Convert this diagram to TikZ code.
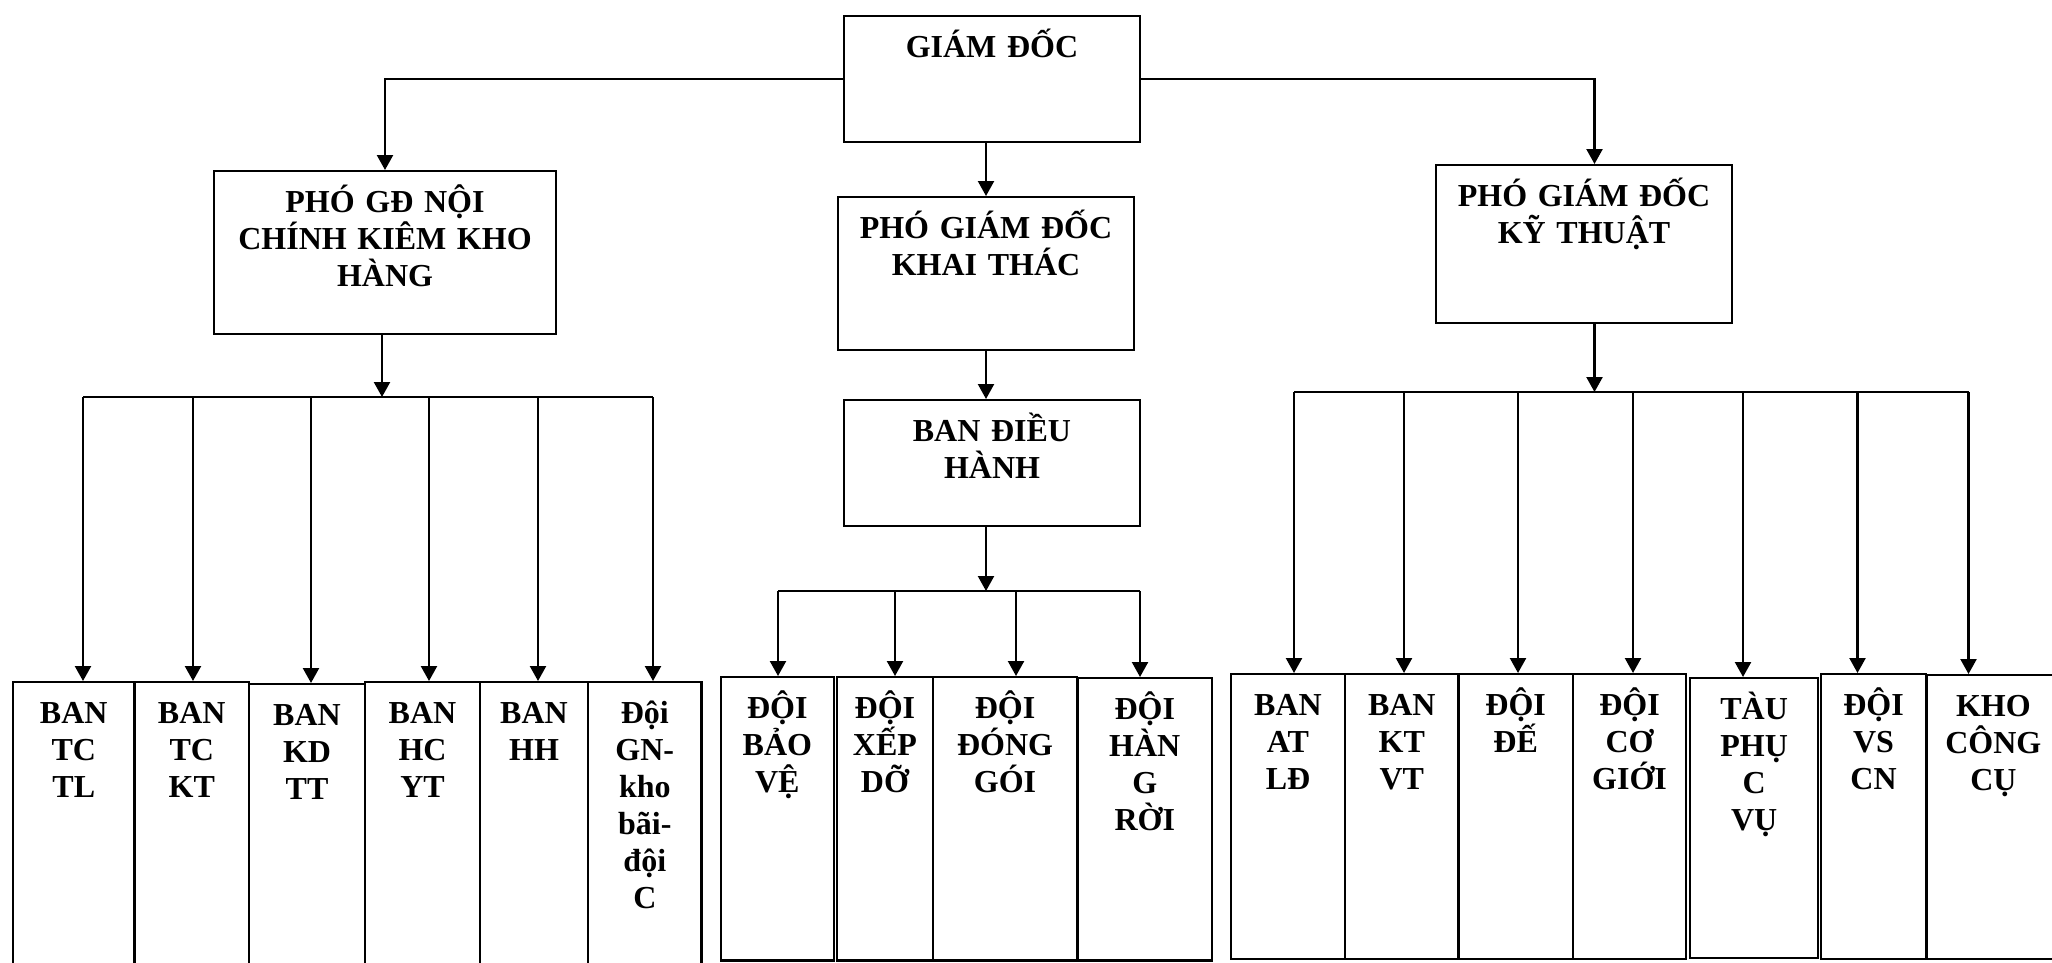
\documentclass[tikz,border=0pt]{standalone}
\usepackage{fontspec}
\setmainfont{Liberation Serif}
\usetikzlibrary{arrows.meta}

\begin{document}
\begin{tikzpicture}[x=1pt, y=-1pt,
  unit/.style={draw, line width=2.3pt, anchor=north, align=center,
    inner xsep=0pt, inner ysep=16.5pt, text height=24.5pt,
    font=\fontsize{32}{37}\selectfont\bfseries},
  link/.style={line width=2.3pt},
  arrow/.style={link, -{Triangle[width=16pt,length=15pt]}}]
\useasboundingbox (0,0) rectangle (2052,962);

% top levels
\node[unit, text width=296pt, text depth=68.5pt] (gd) at (992,15) {GIÁM ĐỐC};
\node[unit, text width=342pt, text depth=105.5pt] (pgdnc) at (385,170)
{PHÓ GĐ NỘI\\CHÍNH KIÊM KHO\\HÀNG};
\node[unit, text width=296pt, text depth=95.5pt] (pgdkt) at (986,196)
{PHÓ GIÁM ĐỐC\\KHAI THÁC};
\node[unit, text width=296pt, text depth=100.5pt] (pgdkth) at (1584,164)
{PHÓ GIÁM ĐỐC\\KỸ THUẬT};
\node[unit, text width=296pt, text depth=68.5pt] (bdh) at (992,399)
{BAN ĐIỀU\\HÀNH};

% noi chinh
\node[unit, text width=121.5pt, text depth=236.5pt] (tctl) at (73.75,681) {BAN\\TC\\TL};
\node[unit, text width=114.5pt, text depth=236.5pt] (tckt) at (191.75,681) {BAN\\TC\\KT};
\node[unit, text width=116pt, text depth=234.5pt] (kdtt) at (307,683) {BAN\\KD\\TT};
\node[unit, text width=115pt, text depth=236.5pt] (hcyt) at (422.5,681) {BAN\\HC\\YT};
\node[unit, text width=108pt, text depth=236.5pt] (hh) at (534,681) {BAN\\HH};
\node[unit, text width=113.6pt, text depth=236.5pt] (gn) at (644.8,681)
{Đội\\GN-\\kho\\bãi-\\đội\\C};

% khai thac
\node[unit, text width=113.3pt, text depth=225.8pt] (baove) at (777.35,676) {ĐỘI\\BẢO\\VỆ};
\node[unit, text width=96.2pt, text depth=225.8pt] (xepdo) at (884.9,676) {ĐỘI\\XẾP\\DỠ};
\node[unit, text width=144pt, text depth=225.8pt] (donggoi) at (1005,676) {ĐỘI\\ĐÓNG\\GÓI};
\node[unit, text width=134.5pt, text depth=224.8pt] (hangroi) at (1144.75,677)
{ĐỘI\\HÀN\\G\\RỜI};

% ky thuat
\node[unit, text width=114pt, text depth=227.2pt] (atld) at (1288,673) {BAN\\AT\\LĐ};
\node[unit, text width=113.6pt, text depth=227.2pt] (ktvt) at (1401.8,673) {BAN\\KT\\VT};
\node[unit, text width=114.1pt, text depth=227.2pt] (doide) at (1515.65,673) {ĐỘI\\ĐẾ};
\node[unit, text width=113.6pt, text depth=227.2pt] (cogioi) at (1629.5,673) {ĐỘI\\CƠ\\GIỚI};
\node[unit, text width=128.3pt, text depth=222.2pt] (tau) at (1754.15,677)
{TÀU\\PHỤ\\C\\VỤ};
\node[unit, text width=105pt, text depth=227.2pt] (vscn) at (1873.5,673) {ĐỘI\\VS\\CN};
\node[unit, text width=133.3pt, text depth=226.2pt] (kho) at (1993.35,674)
{KHO\\CÔNG\\CỤ};

\coordinate (ncbus) at (382,397);
\coordinate (dhbus) at (986,591);
\coordinate (ktbus) at (1594.5,392);

\draw[arrow] (gd.west) -| (pgdnc.north);
\draw[arrow] (gd.east) -| (ktbus |- pgdkth.north);
\draw[arrow] (pgdkt.north |- gd.south) -- (pgdkt.north);
\draw[arrow] (pgdkt.south) -- (pgdkt.south |- bdh.north);

\draw[arrow] (ncbus |- pgdnc.south) -- (ncbus);
\draw[arrow] (dhbus |- bdh.south) -- (dhbus);
\draw[arrow] (ktbus |- pgdkth.south) -- (ktbus);

\draw[link] (83,397) -- (653,397);
\foreach \x/\n in {83/tctl, 193/tckt, 311/kdtt, 429/hcyt, 538/hh, 653/gn}
  \draw[arrow] (\x,397) -- (\x,397 |- \n.north);

\draw[link] (778,591) -- (1140,591);
\foreach \x/\n in {778/baove, 895/xepdo, 1016/donggoi, 1140/hangroi}
  \draw[arrow] (\x,591) -- (\x,591 |- \n.north);

\draw[link] (1294,392) -- (1968.5,392);
\foreach \x/\n in {1294/atld, 1404/ktvt, 1518/doide, 1633/cogioi, 1743/tau, 1857.5/vscn, 1968.5/kho}
  \draw[arrow] (\x,392) -- (\x,392 |- \n.north);
\end{tikzpicture}
\end{document}
